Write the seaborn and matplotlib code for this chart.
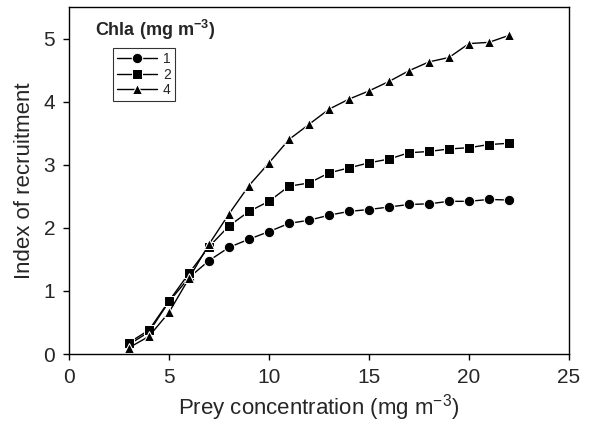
import numpy as np
import pandas as pd
import seaborn as sns
import matplotlib.pyplot as plt

prey = list(range(3, 23))
chla_1 = [0.15, 0.35, 0.83, 1.21, 1.48, 1.69, 1.82, 1.94, 2.07, 2.12, 2.20, 2.26,
          2.29, 2.33, 2.37, 2.38, 2.42, 2.42, 2.45, 2.44]
chla_2 = [0.18, 0.38, 0.84, 1.28, 1.70, 2.03, 2.26, 2.42, 2.66, 2.71, 2.87, 2.95,
          3.03, 3.09, 3.19, 3.21, 3.25, 3.27, 3.32, 3.34]
chla_4 = [0.10, 0.28, 0.66, 1.20, 1.74, 2.22, 2.67, 3.03, 3.40, 3.64, 3.88, 4.04,
          4.17, 4.32, 4.49, 4.63, 4.70, 4.92, 4.94, 5.05]
chla_levels = ['1', '2', '4']

data = pd.DataFrame({
    'Prey': prey * 3,
    'Index': chla_1 + chla_2 + chla_4,
    'Chla': [c for c in chla_levels for _ in prey],
})

sns.set_style('ticks')
plt.rcParams['font.family'] = ['Liberation Sans', 'DejaVu Sans']
plt.rcParams['mathtext.default'] = 'regular'

fig = plt.figure(figsize=(5.96, 4.25), dpi=100)
ax = fig.add_axes([69 / 596, 71 / 425, 500 / 596, 347 / 425])

sns.lineplot(
    data=data, x='Prey', y='Index', style='Chla', markers={'1': 'o', '2': 's', '4': '^'},
    dashes=False, color='black', linewidth=1, markersize=7.5, ax=ax
)

ax.set_xlim(0, 25)
ax.set_ylim(0, 5.5)
ax.set_xticks([0, 5, 10, 15, 20, 25])
ax.set_yticks([0, 1, 2, 3, 4, 5])
ax.tick_params(labelsize=15, length=4, width=1, color='black', pad=6)
for s in ax.spines.values():
    s.set_color('black')
    s.set_linewidth(1)

ax.set_xlabel('Prey concentration (mg m$^{-3}$)', fontsize=16)
ax.set_ylabel('Index of recruitment', fontsize=16, labelpad=6)

ax.text(0.052, 0.935, 'Chla (mg m$^{-3}$)', transform=ax.transAxes, fontsize=13,
        fontweight='bold', va='center', ha='left')
leg = ax.legend(loc='upper left', bbox_to_anchor=(0.088, 0.882), fontsize=10,
                frameon=True, fancybox=False, edgecolor='black', handlelength=2.9,
                borderpad=0.3, labelspacing=0.1, handletextpad=0.4, borderaxespad=0)
leg.get_frame().set_linewidth(0.8)
leg.set_title(None)

fig.savefig('out.png', dpi=100)
